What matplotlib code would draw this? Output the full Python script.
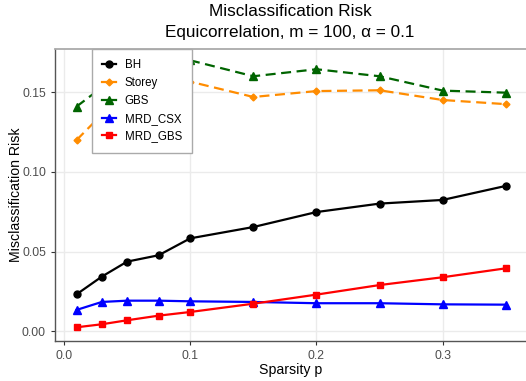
import matplotlib
matplotlib.use("Agg")
import matplotlib.pyplot as plt

plt.rcParams['font.family'] = ['Liberation Sans', 'DejaVu Sans']

sparsity = [0.01, 0.03, 0.05, 0.075, 0.1, 0.15, 0.2, 0.25, 0.3, 0.35]
bh = [0.0232, 0.0343, 0.0437, 0.0477, 0.0583, 0.0654, 0.0748, 0.0801, 0.0824, 0.0912]
storey = [0.120, 0.136, 0.146, 0.151, 0.1566, 0.147, 0.1507, 0.1512, 0.1451, 0.1425]
gbs = [0.141, 0.153, 0.161, 0.166, 0.170, 0.160, 0.1644, 0.160, 0.151, 0.1497]
mrd_csx = [0.0134, 0.0184, 0.0192, 0.0192, 0.0188, 0.0184, 0.0176, 0.0176, 0.0169, 0.0167]
mrd_gbs = [0.0025, 0.0044, 0.0069, 0.0098, 0.0121, 0.0173, 0.0230, 0.0290, 0.0339, 0.0395]

x_ticks = [0.0, 0.1, 0.2, 0.3]
x_ticklabels = ["0.0", "0.1", "0.2", "0.3"]
y_ticks = [0.00, 0.05, 0.10, 0.15]
y_ticklabels = ["0.00", "0.05", "0.10", "0.15"]

W, H = 526, 381
fig = plt.figure(figsize=(W / 100, H / 100), dpi=100)
ax = fig.add_axes([55 / W, 1 - 341 / H, (526 - 55) / W, (341 - 49) / H])

series = [
    ("BH", bh, "black", "-", "o", 5),
    ("Storey", storey, "#FF8C00", (0, (4.5, 2.5)), "D", 3.5),
    ("GBS", gbs, "#006400", (0, (4.5, 2.5)), "^", 6),
    ("MRD_CSX", mrd_csx, "blue", "-", "^", 6),
    ("MRD_GBS", mrd_gbs, "red", "-", "s", 5),
]
for name, vals, col, ls, mk, ms in series:
    ax.plot(sparsity, vals, color=col, linestyle=ls, linewidth=1.6,
            marker=mk, markersize=ms, label=name, zorder=3)

ax.set_xlim(-0.0071, 0.366)
ax.set_ylim(-0.0061, 0.1771)
ax.set_xticks(x_ticks)
ax.set_xticklabels(x_ticklabels)
ax.set_yticks(y_ticks)
ax.set_yticklabels(y_ticklabels)
ax.grid(True, color="#EBEBEB", linewidth=1.0, zorder=0)
ax.set_axisbelow(True)

for s in ["left", "bottom"]:
    ax.spines[s].set_color("#555555")
    ax.spines[s].set_linewidth(1.0)
ax.spines["top"].set_color("#AAAAAA")
ax.spines["top"].set_linewidth(1.3)
ax.spines["right"].set_visible(False)

ax.tick_params(axis="both", colors="#333333", labelcolor="#4D4D4D",
               labelsize=8.8, length=3, width=0.8)

ax.set_xlabel("Sparsity p", fontsize=10.2, color="black", labelpad=1)
ax.set_ylabel("Misclassification Risk", fontsize=10.2, color="black")
ax.yaxis.set_label_coords((23 - 55) / 471, 0.5)

fig.text(290 / W, 1 - 12 / H, "Misclassification Risk", ha="center", va="center", fontsize=12.3)
fig.text(290 / W, 1 - 33 / H, "Equicorrelation, m = 100, \u03b1 = 0.1", ha="center", va="center", fontsize=12.3)

leg = ax.legend(loc="upper left", bbox_to_anchor=(92 / W, 1 - 49 / H),
                bbox_transform=fig.transFigure, fontsize=8.3, frameon=True,
                fancybox=False, edgecolor="#AAAAAA", framealpha=1.0,
                handlelength=1.15, borderpad=0.9, labelspacing=0.5,
                handletextpad=0.8, borderaxespad=0)
leg.get_frame().set_linewidth(1.0)
leg.set_zorder(10)
for h in leg.get_lines():
    h.set_linestyle("-")

fig.savefig("out.png", dpi=100)
